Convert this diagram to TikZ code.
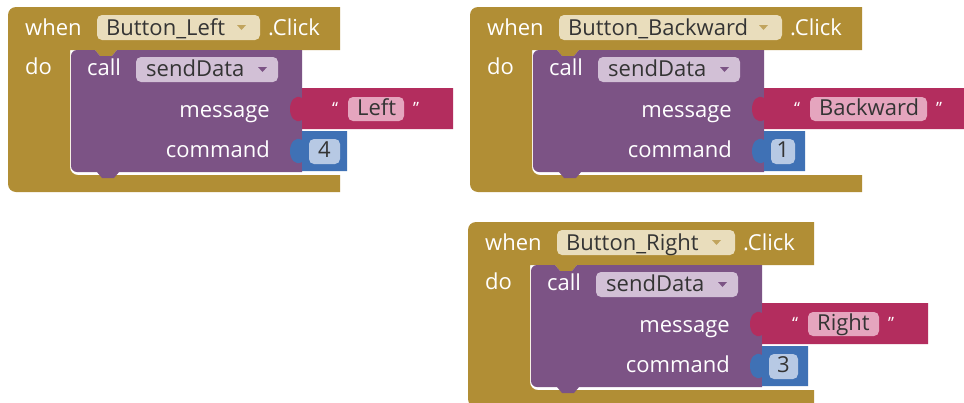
\documentclass[tikz,border=0pt]{standalone}
\usepackage{fontspec}
\setmainfont{Open Sans}
\definecolor{goldc}{RGB}{177,142,53}
\definecolor{purpc}{RGB}{124,83,133}
\definecolor{redc}{RGB}{179,45,94}
\definecolor{bluec}{RGB}{63,113,181}
\definecolor{goldf}{RGB}{233,221,188}
\definecolor{purpf}{RGB}{210,192,214}
\definecolor{redf}{RGB}{229,165,190}
\definecolor{bluef}{RGB}{183,201,228}
\definecolor{ftext}{RGB}{52,52,52}
\tikzset{
  lbl/.style={text=white, font=\fontsize{22}{26}\selectfont, inner sep=0pt, anchor=base west},
  ftxt/.style={text=ftext, font=\fontsize{22}{26}\selectfont, inner sep=0pt, anchor=base west},
  qt/.style={text=white, font=\fontsize{17}{20}\selectfont, inner sep=0pt, anchor=base west},
  fieldbox/.style={rounded corners=5pt},
}
% per-block parameters: \pre \bW \evR \evname \redR \msgR \msg \blueR \numR \num
\newcommand\drawwhenblock{%
  % gold event block (C shape)
  \fill[goldc] (8,0) -- (\bW,0) -- (\bW,43) -- (109,43) -- (104,49) -- (92,49) -- (87,43)
    -- (62,43) -- (62,160) arc[start angle=180,end angle=90,radius=8]
    -- (\bW,168) -- (\bW,185) -- (8,185) arc[start angle=90,end angle=180,radius=8]
    -- (0,8) arc[start angle=180,end angle=270,radius=8] -- cycle;
  % purple call block
  \fill[purpc] (69,43) -- (87,43) -- (92,49) -- (104,49) -- (109,43) -- (294,43)
    -- (294,165) -- (111,165) -- (106,171) -- (94,171) -- (89,165)
    -- (69,165) arc[start angle=90,end angle=180,radius=6]
    -- (63,49) arc[start angle=180,end angle=270,radius=6] -- cycle;
  % red text block
  \fill[redc] (294,81) -- (\redR,81) -- (\redR,122) -- (294,122) -- (294,113)
    .. controls (287,117) and (282,110) .. (282,102)
    .. controls (282,94) and (287,87) .. (294,91) -- cycle;
  % blue number block
  \fill[bluec] (294,124) -- (\blueR,124) -- (\blueR,164) -- (294,164) -- (294,155)
    .. controls (287,159) and (282,152) .. (282,144)
    .. controls (282,136) and (287,129) .. (294,133) -- cycle;
  % fields
  \fill[goldf, fieldbox] (89,8) rectangle (\evR,33);
  \fill[goldc!80] ({\evR-23},18) -- ({\evR-14},18) -- ({\evR-18.5},23) -- cycle;
  \fill[purpf, fieldbox] (128,50) rectangle (270,75);
  \fill[purpc] (250,60) -- (259,60) -- (254.5,65) -- cycle;
  \fill[redf, fieldbox] (340,90) rectangle (\msgR,114);
  \fill[bluef, fieldbox] (301,132) rectangle (\numR,157);
  % texts
  \node[lbl] (\pre-when) at (17,28) {when};
  \node[ftxt] (\pre-ev) at (98,28) {\evname};
  \node[lbl] (\pre-click) at ({\evR+8},28) {.Click};
  \node[lbl] (\pre-do) at (17,67) {do};
  \node[lbl] (\pre-call) at (79,68) {call};
  \node[ftxt] (\pre-sd) at (138,69) {sendData};
  \node[lbl, anchor=base east] (\pre-msg) at (262,110) {message};
  \node[lbl, anchor=base east] (\pre-cmd) at (262,150) {command};
  \node[qt] (\pre-q1) at (324,107) {“};
  \node[ftxt] (\pre-m) at (349,108) {\msg};
  \node[qt] (\pre-q2) at ({\msgR+9},107) {”};
  \node[ftxt, anchor=base] (\pre-n) at ({(301+\numR)/2},150) {\num};
}
\begin{document}
\begin{tikzpicture}[x=1pt,y=-1pt]
\fill[white] (0,0) rectangle (964,402);
\useasboundingbox (0,0) rectangle (964,402);
\begin{scope}[shift={(8,7)}]
  \def\pre{L}\def\bW{332}\def\evR{252}\def\evname{Button\_Left}
  \def\redR{445}\def\msgR{396}\def\msg{Left}\def\blueR{339}\def\numR{332}\def\num{4}
  \drawwhenblock
\end{scope}
\begin{scope}[shift={(470,7)}]
  \def\pre{B}\def\bW{392}\def\evR{312}\def\evname{Button\_Backward}
  \def\redR{494}\def\msgR{457}\def\msg{Backward}\def\blueR{335}\def\numR{325}\def\num{1}
  \drawwhenblock
\end{scope}
\begin{scope}[shift={(468,222)}]
  \def\pre{R}\def\bW{346}\def\evR{267}\def\evname{Button\_Right}
  \def\redR{460}\def\msgR{411}\def\msg{Right}\def\blueR{340}\def\numR{330}\def\num{3}
  \drawwhenblock
\end{scope}
\end{tikzpicture}
\end{document}
